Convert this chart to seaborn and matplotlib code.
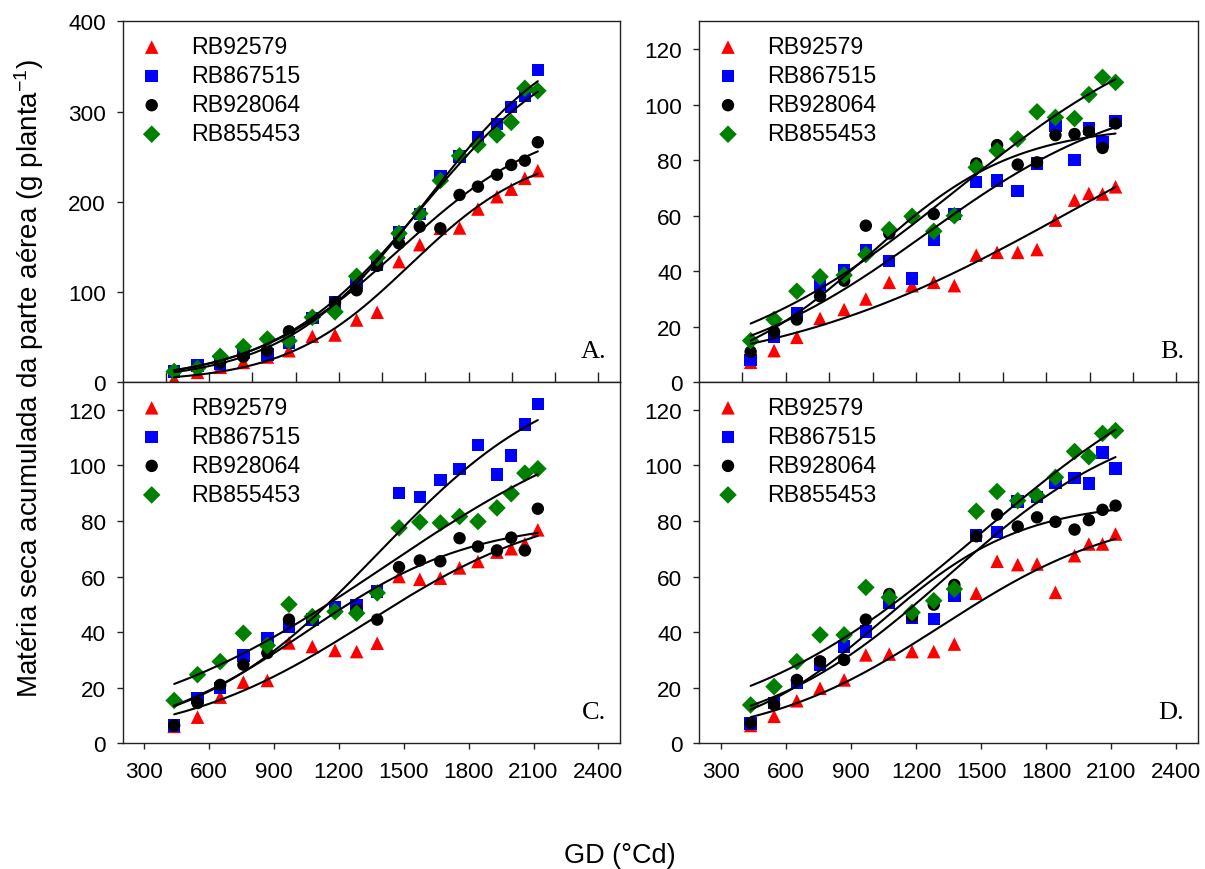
import numpy as np
import pandas as pd
import matplotlib
matplotlib.use("Agg")
import matplotlib.pyplot as plt
import seaborn as sns

# ---------------- data ----------------
gd = [438, 546, 651, 758, 869, 969, 1077, 1182, 1282, 1377, 1478, 1574,
      1669, 1758, 1843, 1931, 1997, 2060, 2120]

cultivars = ["RB92579", "RB867515", "RB928064", "RB855453"]

a_rb92579 = [3.7, 11, 16.6, 22, 28, 35, 51, 52.4, 69, 77.6, 133.7, 152.5, 170.6, 171, 192, 205.7, 214, 226, 234.5]
a_rb867515 = [11.8, 18.5, 20, 33, 31, 44, 71, 88.6, 110.8, 130.7, 166, 186.5, 228, 250, 272, 286, 305, 317.6, 346]
a_rb928064 = [12, 16.6, 22, 28.4, 35, 56.5, 71, 88.6, 102, 129, 154, 172.5, 170.6, 207.6, 216.8, 230, 240.8, 245.6, 266]
a_rb855453 = [12, 15.5, 28.8, 39.5, 48, 46, 72, 78, 117.5, 138, 165, 187, 223.5, 251, 263, 274, 288, 325.8, 323]

b_rb92579 = [7.2, 11.4, 16.2, 23, 26.2, 30, 36, 34.8, 36, 34.8, 45.8, 46.8, 46.8, 47.8, 58.4, 65.6, 68, 67.8, 70.4]
b_rb867515 = [8, 16.4, 24.8, 35, 40.2, 47.4, 43.6, 37.4, 51.2, 60.6, 72.2, 72.6, 68.8, 78.8, 92.2, 80, 91.4, 86.6, 94.2]
b_rb928064 = [11, 18.2, 22.6, 31, 36.6, 56.4, 53.6, 59.4, 60.6, 60, 78.8, 85.4, 78.4, 79.2, 89, 89.4, 90.4, 84.4, 93.2]
b_rb855453 = [15, 22.6, 32.8, 38, 38.6, 46, 55, 59.8, 54.4, 60, 77.4, 83.4, 87.6, 97.4, 95.4, 95, 103.6, 109.8, 108]

c_rb92579 = [6.1, 9.4, 16.6, 22, 22.6, 36.1, 34.8, 33.4, 33, 36, 60, 59, 59.4, 63.1, 65.4, 68.8, 70, 71.8, 76.8]
c_rb867515 = [6.4, 16.2, 19.8, 31.6, 37.8, 42.1, 44.5, 49, 49.6, 54.6, 90, 88.6, 94.8, 98.8, 107.4, 96.7, 103.6, 114.7, 122]
c_rb928064 = [6.4, 14.5, 21, 28.3, 32.5, 44.5, 45, 47.4, 48, 44.5, 63.4, 65.8, 65.5, 73.8, 70.8, 69.4, 74, 69.4, 84.4]
c_rb855453 = [15.4, 24.7, 29.4, 39.6, 35.2, 50, 45.6, 47.4, 46.8, 54.1, 77.5, 79.6, 79.3, 81.6, 79.8, 84.7, 89.8, 97.2, 98.8]

d_rb92579 = [6.4, 9.7, 15.3, 19.8, 22.8, 31.8, 32.1, 33, 33, 35.7, 54, 65.5, 64.3, 64.5, 54.3, 67.5, 71.7, 71.7, 75.3]
d_rb867515 = [7.2, 14.4, 21.6, 28.3, 34.8, 40.3, 50.4, 45, 44.7, 52.9, 74.7, 76.1, 87, 88.7, 93.6, 95.4, 93.5, 104.7, 98.9]
d_rb928064 = [7.2, 13.9, 22.8, 29.5, 30, 44.5, 53.7, 45.7, 49.9, 57, 74.5, 82.3, 78, 81.3, 79.7, 76.9, 80.3, 84, 85.5]
d_rb855453 = [13.8, 20.4, 29.4, 39, 39, 56.1, 52.5, 47.1, 51.3, 55.5, 83.5, 90.6, 87.3, 89.1, 95.7, 105, 103.1, 111.5, 112.5]

panel_labels = ["A.", "B.", "C.", "D."]
x_ticks_bottom = [300, 600, 900, 1200, 1500, 1800, 2100, 2400]

panels = [
    [a_rb92579, a_rb867515, a_rb928064, a_rb855453],
    [b_rb92579, b_rb867515, b_rb928064, b_rb855453],
    [c_rb92579, c_rb867515, c_rb928064, c_rb855453],
    [d_rb92579, d_rb867515, d_rb928064, d_rb855453],
]

# ---------------- style ----------------
sns.set_theme(style="ticks")
plt.rcParams["font.family"] = ["Liberation Sans", "DejaVu Sans"]
plt.rcParams["mathtext.default"] = "regular"
plt.rcParams["axes.edgecolor"] = "#222222"
plt.rcParams["axes.linewidth"] = 1.0
plt.rcParams["text.color"] = "black"
plt.rcParams["axes.labelcolor"] = "black"
plt.rcParams["xtick.labelcolor"] = "black"
plt.rcParams["ytick.labelcolor"] = "black"

colors = {"RB92579": "#FF0000", "RB867515": "#0000FF", "RB928064": "#000000", "RB855453": "#008000"}
markers = {"RB92579": "^", "RB867515": "s", "RB928064": "o", "RB855453": "D"}
sizes = {"RB92579": 95, "RB867515": 80, "RB928064": 80, "RB855453": 80}


def logistic_fit(x, y):
    """3-parameter sigmoid y = a / (1 + exp(-(x - x0)/b)), least squares via grid + linear a."""
    x = np.asarray(x, float)
    y = np.asarray(y, float)
    x0s = np.linspace(600, 4500, 261)[:, None, None]
    bs = np.linspace(80, 1800, 216)[None, :, None]
    f = 1.0 / (1.0 + np.exp(-(x[None, None, :] - x0s) / bs))
    a = (f * y).sum(-1) / (f * f).sum(-1)
    sse = ((y - a[..., None] * f) ** 2).sum(-1)
    i, j = np.unravel_index(np.argmin(sse), sse.shape)
    x0, b, aa = x0s[i, 0, 0], bs[0, j, 0], a[i, j]
    xs = np.linspace(x.min(), x.max(), 200)
    return xs, aa / (1 + np.exp(-(xs - x0) / b))


fig = plt.figure(figsize=(12.05, 8.70), dpi=100)
W, H = 1205, 870
positions = [
    (122.7, 22.3, 620, 383.3),
    (699, 22.3, 1198, 383.3),
    (122.7, 383.0, 620, 744.3),
    (699, 383.0, 1198, 744.3),
]
ylims = [(0, 400), (0, 130), (0, 130), (0, 130)]
yticks = [[0, 100, 200, 300, 400], list(range(0, 121, 20)), list(range(0, 121, 20)), list(range(0, 121, 20))]

for k, (l, t, r, b) in enumerate(positions):
    ax = fig.add_axes([l / W, 1 - b / H, (r - l) / W, (b - t) / H])
    vals = panels[k]
    df = pd.DataFrame({
        "GD": np.tile(gd, 4),
        "MS": np.concatenate([np.asarray(v, float) for v in vals]),
        "Cultivar": np.repeat(cultivars, len(gd)),
    })
    # fitted curves
    for c, v in zip(cultivars, vals):
        xs, ys = logistic_fit(gd, v)
        sns.lineplot(x=xs, y=ys, ax=ax, color="black", lw=1.5, zorder=3)
    # points
    for c in cultivars:
        sub = df[df["Cultivar"] == c]
        sns.scatterplot(data=sub, x="GD", y="MS", ax=ax, color=colors[c], marker=markers[c],
                        s=sizes[c], edgecolor="none", linewidth=0, label=c, zorder=2)
    ax.set_xlim(200, 2500)
    ax.set_ylim(*ylims[k])
    ax.set_yticks(yticks[k])
    ax.set_xlabel("")
    ax.set_ylabel("")
    ax.tick_params(axis="y", direction="out", length=4, width=1, pad=8, labelsize=16.2, colors="#222222", labelcolor="black")
    if k < 2:
        ax.set_xticks(list(range(400, 2401, 200)))
        ax.tick_params(axis="x", direction="in", length=7.5, width=1, labelbottom=False, colors="#222222")
    else:
        ax.set_xticks(x_ticks_bottom)
        ax.tick_params(axis="x", direction="out", length=4, width=1, pad=9, labelsize=16.2, colors="#222222", labelcolor="black")
    for s in ax.spines.values():
        s.set_visible(True)
        s.set_color("#222222")
    leg = ax.legend(loc="upper left", bbox_to_anchor=(0.0, 1.0), frameon=False, fontsize=16.7,
                    handletextpad=1.05, labelspacing=0.26, borderaxespad=0.2, handlelength=1.3,
                    markerscale=1.0, labelcolor="black")
    ax.text(0.972, 0.07, panel_labels[k], transform=ax.transAxes, ha="right", va="baseline",
            fontsize=19, color="black", family=["Liberation Serif", "DejaVu Serif"])
    ax.set_facecolor("white")

fig.text(0.0245, 0.565, "Matéria seca acumulada da parte aérea (g planta$^{-1}$)", rotation=90,
         ha="center", va="center", fontsize=20, color="black")
fig.text(0.514, 0.016, "GD (°Cd)", ha="center", va="center", fontsize=19.5, color="black")

fig.savefig("out.png", dpi=100, facecolor="white")
